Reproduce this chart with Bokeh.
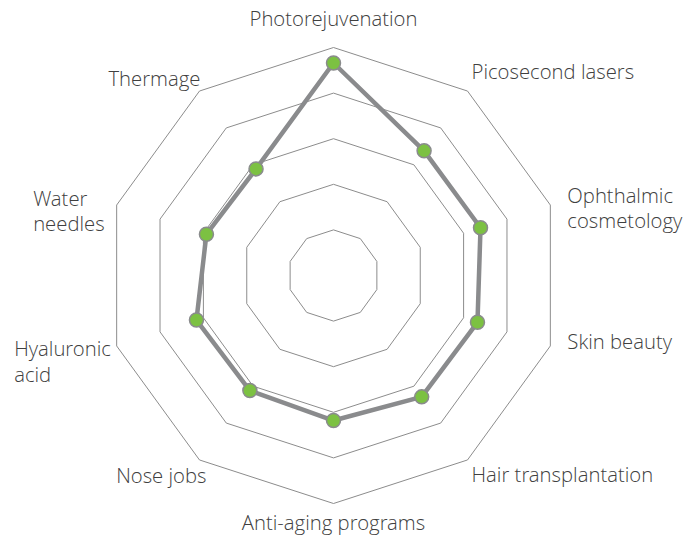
import numpy as np
from bokeh.plotting import figure
from bokeh.models import ColumnDataSource, Range1d
from bokeh.core.properties import value
from bokeh.embed import file_html
from bokeh.resources import INLINE

# ---- data ----
categories = ["Photorejuvenation", "Picosecond lasers", "Ophthalmic\ncosmetology",
              "Skin beauty", "Hair transplantation", "Anti-aging programs",
              "Nose jobs", "Hyaluronic\nacid", "Water\nneedles", "Thermage"]
scores = [4.66, 3.38, 3.39, 3.32, 3.29, 3.18, 3.12, 3.16, 2.93, 2.89]
levels = [1, 2, 3, 4, 5]
max_level = 5

# ---- layout / style ----
W, H = 698, 535
CX, CY = 333, 275          # centre in pixels from top-left
UNIT = 45.6                # pixels per value unit

label_align = ["center", "left", "left", "left", "left", "center", "right", "left", "left", "right"]
label_dx = [0, 4, 17, 17, 4, 0, 7, -102.5, -83.5, 1]
label_dy = [-30, -20, 2.5, -4.5, 14.5, 18, 15.5, 15, 5.5, -13.5]

n = len(categories)
theta = np.deg2rad(90 - 360.0 / n * np.arange(n))
cos_t, sin_t = np.cos(theta), np.sin(theta)

p = figure(width=W, height=H, output_backend="svg", toolbar_location=None,
           x_range=Range1d(-CX / UNIT, (W - CX) / UNIT),
           y_range=Range1d(-(H - CY) / UNIT, CY / UNIT),
           min_border=0)
p.axis.visible = False
p.grid.visible = False
p.outline_line_color = None
p.background_fill_color = "white"

# grid decagons
gx = [list(np.append(cos_t * l, cos_t[0] * l)) for l in levels]
gy = [list(np.append(sin_t * l, sin_t[0] * l)) for l in levels]
p.multi_line(gx, gy, line_color="#8c8c8c", line_width=1)

# series
vx = np.array(scores) * cos_t
vy = np.array(scores) * sin_t
p.line(np.append(vx, vx[0]), np.append(vy, vy[0]), line_color="#8a8b8d", line_width=4.5,
       line_join="round")
p.scatter(vx, vy, size=14, marker="circle", fill_color="#7cc142",
          line_color="#8a8b8d", line_width=1.5)

# labels
src = ColumnDataSource(dict(x=cos_t * max_level, y=sin_t * max_level, text=categories,
                            align=label_align, dx=label_dx, dy=label_dy))
p.text(x="x", y="y", text="text", source=src, x_offset="dx", y_offset="dy",
       text_align="align", text_baseline="middle",
       text_font=value("'Open Sans Light', 'Open Sans'"), text_font_size="20.3px",
       text_color="#404040", text_line_height=0.9)

open("out.html", "w").write(file_html(p, INLINE))
